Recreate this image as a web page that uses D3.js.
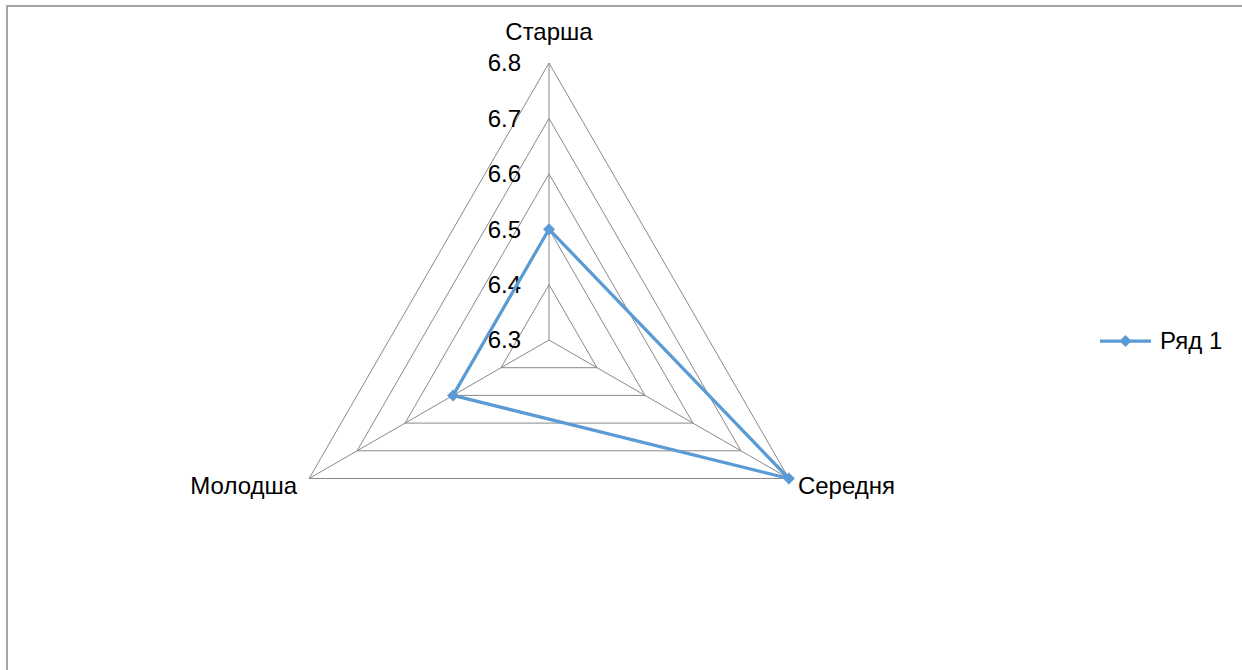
<!DOCTYPE html>
<html><head><meta charset="utf-8">
<script src="https://cdn.jsdelivr.net/npm/d3@7"></script>
<style>html,body{margin:0;padding:0;background:#fff;}svg{display:block;}</style>
</head><body>
<script>
const categories = ["Старша", "Середня", "Молодша"];
const seriesName = "Ряд 1";
const values = [6.5, 6.8, 6.5];
const tickValues = [6.3, 6.4, 6.5, 6.6, 6.7, 6.8];
const tickLabels = ["6.3", "6.4", "6.5", "6.6", "6.7", "6.8"];

const W = 1242, H = 670;
const svg = d3.select("body").append("svg").attr("width", W).attr("height", H);
const font = "'Liberation Sans', Arial, sans-serif";
const fs = 24;

svg.append("rect").attr("x", 7).attr("y", 6).attr("width", W + 10).attr("height", H + 10)
  .attr("fill", "#fff").attr("stroke", "#a6a6a6").attr("stroke-width", 2);

const cx = 549, cy = 340, R = 277;
const r = d3.scaleLinear().domain([6.3, 6.8]).range([0, R]);
const angle = d3.scalePoint().domain(categories).range([0, 2 * Math.PI * (categories.length - 1) / categories.length]);
const pt = (cat, v) => {
  const a = angle(cat);
  return [cx + r(v) * Math.sin(a), cy - r(v) * Math.cos(a)];
};

const g = svg.append("g");
tickValues.slice(1).forEach(t => {
  g.append("path")
    .attr("d", d3.line()(categories.map(c => pt(c, t))) + "Z")
    .attr("fill", "none").attr("stroke", "#898989").attr("stroke-width", 1);
});
categories.forEach(c => {
  const p = pt(c, 6.8);
  g.append("line").attr("x1", cx).attr("y1", cy).attr("x2", p[0]).attr("y2", p[1])
    .attr("stroke", "#898989").attr("stroke-width", 1);
});
tickValues.forEach((t, i) => {
  g.append("text").attr("x", cx - 28).attr("y", cy - r(t)).attr("dy", "0.35em")
    .attr("text-anchor", "end").attr("font-family", font).attr("font-size", fs)
    .attr("fill", "#000").text(tickLabels[i]);
});
const labelPos = [
  {dx: 0, dy: -23, anchor: "middle"},
  {dx: 9, dy: 15, anchor: "start"},
  {dx: -12, dy: 15, anchor: "end"}
];
categories.forEach((c, i) => {
  const p = pt(c, 6.8);
  g.append("text").attr("x", p[0] + labelPos[i].dx).attr("y", p[1] + labelPos[i].dy)
    .attr("text-anchor", labelPos[i].anchor).attr("font-family", font).attr("font-size", fs)
    .attr("fill", "#000").text(c);
});
const blue = "#5b9bd5";
const pts = categories.map((c, i) => pt(c, values[i]));
g.append("path").attr("d", d3.line()(pts) + "Z").attr("fill", "none")
  .attr("stroke", blue).attr("stroke-width", 3.25).attr("stroke-linejoin", "round");
const marker = d3.symbol().type(d3.symbolSquare).size(72);
g.selectAll(".mk").data(pts).join("path").attr("class", "mk")
  .attr("transform", d => `translate(${d[0]},${d[1]}) rotate(45)`).attr("d", marker).attr("fill", blue);

const lg = svg.append("g").attr("transform", "translate(1100,341)");
lg.append("line").attr("x1", 0).attr("x2", 51).attr("y1", 0).attr("y2", 0).attr("stroke", blue).attr("stroke-width", 3.25);
lg.append("path").attr("transform", "translate(25.5,0) rotate(45)").attr("d", marker).attr("fill", blue);
lg.append("text").attr("x", 60).attr("y", 0).attr("dy", "0.35em").attr("font-family", font)
  .attr("font-size", fs).attr("fill", "#000").text(seriesName);
</script>
</body></html>
